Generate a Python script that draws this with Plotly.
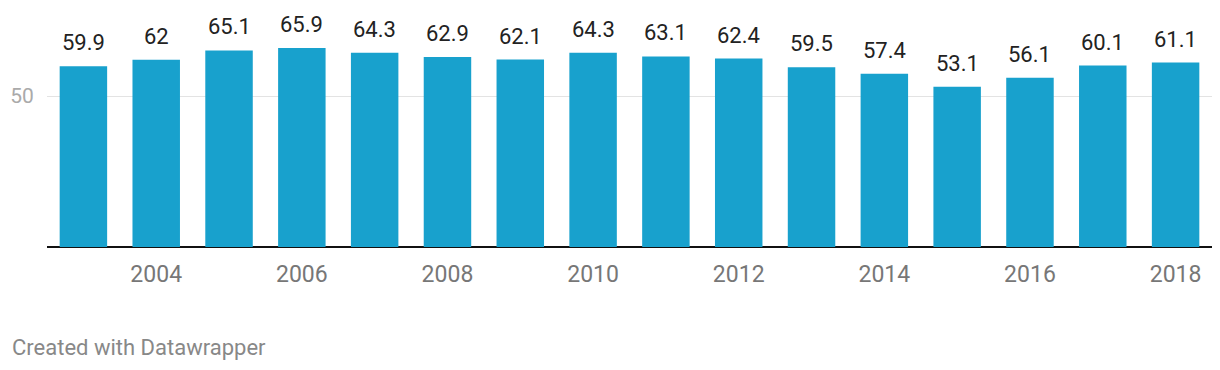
import plotly.graph_objects as go

years = list(range(2003, 2019))
values = [59.9, 62, 65.1, 65.9, 64.3, 62.9, 62.1, 64.3, 63.1, 62.4, 59.5, 57.4, 53.1, 56.1, 60.1, 61.1]
labels = ["59.9", "62", "65.1", "65.9", "64.3", "62.9", "62.1", "64.3", "63.1", "62.4", "59.5", "57.4", "53.1", "56.1", "60.1", "61.1"]
tick_years = [2004, 2006, 2008, 2010, 2012, 2014, 2016, 2018]

fig = go.Figure()
fig.add_trace(go.Bar(x=years, y=values, marker=dict(color="#18a1cd", line=dict(width=0)), hoverinfo="skip"))

for yr, v, t in zip(years, values, labels):
    fig.add_annotation(x=yr, y=v, text=t, showarrow=False, yanchor="bottom", yshift=9,
                       font=dict(family="Roboto", size=22, color="#222222"))

fig.add_annotation(xref="paper", yref="paper", x=-37 / 1165.0, y=-(347 - 247) / 237.0,
                   xanchor="left", yanchor="middle",
                   text="Created with Datawrapper", showarrow=False,
                   font=dict(family="Roboto", size=22, color="#888888"))

fig.update_layout(
    width=1220, height=370,
    margin=dict(l=47, r=8, t=10, b=123),
    plot_bgcolor="white", paper_bgcolor="white",
    bargap=0.348, showlegend=False,
    font=dict(family="Roboto"),
)
fig.update_xaxes(range=[2002.5, 2018.5], tickvals=tick_years, ticktext=[str(y) for y in tick_years],
                 showgrid=False, zeroline=False, showline=False, ticks="outside", ticklen=6, tickcolor="rgba(0,0,0,0)",
                 tickfont=dict(family="Roboto", size=23, color="#777777"))
fig.update_yaxes(range=[0, 78.5], tickvals=[50], showgrid=True, gridcolor="#e3e3e3", gridwidth=1,
                 zeroline=True, zerolinecolor="#111111", zerolinewidth=2,
                 ticks="outside", ticklen=8, tickcolor="rgba(0,0,0,0)",
                 tickfont=dict(family="Roboto", size=21, color="#aaaaaa"))

fig.write_html("out.html", config={"displayModeBar": False, "staticPlot": True},
               post_script="document.body.style.margin='0';document.body.style.overflow='hidden';")
